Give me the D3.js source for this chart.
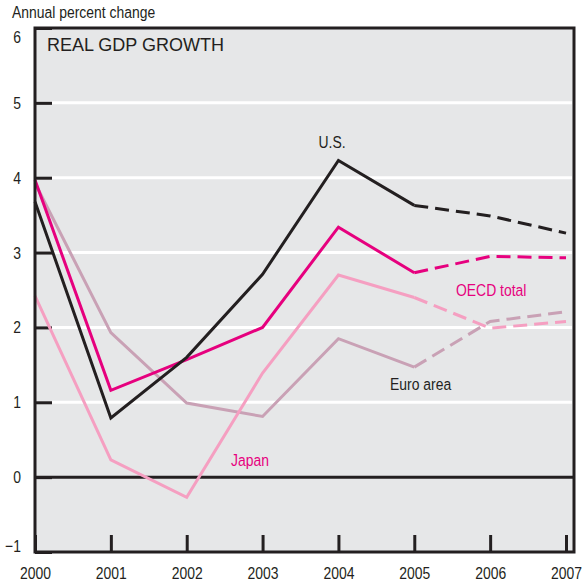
<!DOCTYPE html>
<html>
<head>
<meta charset="utf-8">
<script src="https://cdn.jsdelivr.net/npm/d3@7"></script>
<style>
  body { margin: 0; background: #fff; }
  svg { display: block; }
  .cond { font-family: "Liberation Sans", Arial, sans-serif; }
</style>
</head>
<body>
<svg width="583" height="584"></svg>
<script>
// data (annual % change, 2005-2007 projected)
var years = [2000, 2001, 2002, 2003, 2004, 2005, 2006, 2007];
var us    = [3.68, 0.79, 1.60, 2.71, 4.23, 3.63, 3.49, 3.26];
var oecd  = [3.97, 1.16, 1.57, 2.00, 3.34, 2.73, 2.95, 2.93];
var euro  = [3.93, 1.93, 0.99, 0.81, 1.85, 1.47, 2.08, 2.21];
var japan = [2.42, 0.23, -0.27, 1.39, 2.70, 2.40, 1.99, 2.08];
var yTicks = [-1, 0, 1, 2, 3, 4, 5, 6];
var firstProjected = 2005;

var ink = "#231f20";
var narrowK = 0.82; // no condensed font installed, so squeeze Liberation Sans

var svg = d3.select("svg");

// plot frame (don't use "top", it's window.top)
var pLeft = 35, pRight = 574, pTop = 28, pBottom = 552;

var x = d3.scaleLinear().domain([2000, 2007]).range([pLeft, 566]);
var y = d3.scaleLinear().domain([-1, 6]).range([pBottom, pTop]);

// fake a condensed face: scale x only, keep anchor position
function squeeze(sel) {
    sel.each(function() {
        var t = d3.select(this);
        var x0 = +t.attr("x") || 0;
        t.attr("x", x0 / narrowK)
         .attr("transform", "scale(" + narrowK + ",1)")
         .classed("cond", true);
    });
}

// panel
svg.append("rect")
    .attr("x", pLeft).attr("y", pTop)
    .attr("width", pRight - pLeft).attr("height", pBottom - pTop)
    .attr("fill", "#e6e7e8");

// white gridlines
svg.selectAll(".grid")
    .data([1, 2, 3, 4, 5])
    .enter().append("line")
    .attr("class", "grid")
    .attr("x1", pLeft + 17).attr("x2", pRight - 2)
    .attr("y1", function(d) { return y(d); })
    .attr("y2", function(d) { return y(d); })
    .attr("stroke", "#fff")
    .attr("stroke-width", 3);

// y axis
var yAxis = d3.axisLeft(y)
    .tickValues(yTicks)
    .tickSizeInner(-17)
    .tickSizeOuter(0)
    .tickPadding(14)
    .tickFormat(d3.format("d"));

var gy = svg.append("g")
    .attr("transform", "translate(" + pLeft + ",0)")
    .call(yAxis);
gy.select(".domain").remove();
gy.selectAll("line").attr("stroke", ink).attr("stroke-width", 3);
gy.selectAll("text")
    .attr("font-size", 17)
    .attr("fill", ink)
    .attr("dy", function(d) {
        if (d === 6) return "0.85em";
        if (d === -1) return "-0.05em";
        return "0.32em";
    })
    .call(squeeze);

// x axis
var xAxis = d3.axisBottom(x)
    .tickValues(years)
    .tickSizeInner(-17)
    .tickSizeOuter(0)
    .tickPadding(15)
    .tickFormat(d3.format("d"));

var gx = svg.append("g")
    .attr("transform", "translate(0," + pBottom + ")")
    .call(xAxis);
gx.select(".domain").remove();
gx.selectAll("line").attr("stroke", ink).attr("stroke-width", 3);
gx.selectAll("text")
    .attr("font-size", 17)
    .attr("fill", ink)
    .call(squeeze);

// zero line
svg.append("line")
    .attr("x1", pLeft).attr("x2", pRight)
    .attr("y1", y(0)).attr("y2", y(0))
    .attr("stroke", ink).attr("stroke-width", 3);

// series
var series = [
    { name: "euro",  values: euro,  color: "#c9a1b5" },
    { name: "japan", values: japan, color: "#f59fc1" },
    { name: "oecd",  values: oecd,  color: "#e6007e" },
    { name: "us",    values: us,    color: ink }
];

var line = d3.line()
    .x(function(d) { return x(d.year); })
    .y(function(d) { return y(d.v); });

series.forEach(function(s) {
    var pts = years.map(function(yr, i) { return { year: yr, v: s.values[i] }; });
    var actual = pts.filter(function(p) { return p.year <= firstProjected; });
    var proj = pts.filter(function(p) { return p.year >= firstProjected; });

    svg.append("path")
        .datum(actual)
        .attr("d", line)
        .attr("fill", "none")
        .attr("stroke", s.color)
        .attr("stroke-width", 3)
        .attr("stroke-linejoin", "miter");

    svg.append("path")
        .datum(proj)
        .attr("d", line)
        .attr("fill", "none")
        .attr("stroke", s.color)
        .attr("stroke-width", 3)
        .attr("stroke-dasharray", "14,7");
});

// frame
svg.append("rect")
    .attr("x", pLeft).attr("y", pTop)
    .attr("width", pRight - pLeft).attr("height", pBottom - pTop)
    .attr("fill", "none")
    .attr("stroke", ink)
    .attr("stroke-width", 3);

// titles and labels
svg.append("text")
    .attr("x", 12).attr("y", 18)
    .attr("font-size", 17)
    .attr("fill", ink)
    .text("Annual percent change")
    .call(squeeze);

svg.append("text")
    .attr("x", 47).attr("y", 51)
    .attr("font-family", "Liberation Sans, Arial, sans-serif")
    .attr("font-size", 18)
    .attr("fill", ink)
    .text("REAL GDP GROWTH");

var labels = [
    { text: "U.S.",       x: 332, y: 148, anchor: "middle", color: ink },
    { text: "OECD total", x: 456, y: 296, anchor: "start",  color: "#e6007e" },
    { text: "Euro area",  x: 390, y: 390, anchor: "start",  color: ink },
    { text: "Japan",      x: 231, y: 466, anchor: "start",  color: "#e6007e" }
];

svg.selectAll(".lbl")
    .data(labels)
    .enter().append("text")
    .attr("class", "lbl")
    .attr("x", function(d) { return d.x; })
    .attr("y", function(d) { return d.y; })
    .attr("text-anchor", function(d) { return d.anchor; })
    .attr("font-size", 17)
    .attr("fill", function(d) { return d.color; })
    .text(function(d) { return d.text; })
    .call(squeeze);
</script>
</body>
</html>
